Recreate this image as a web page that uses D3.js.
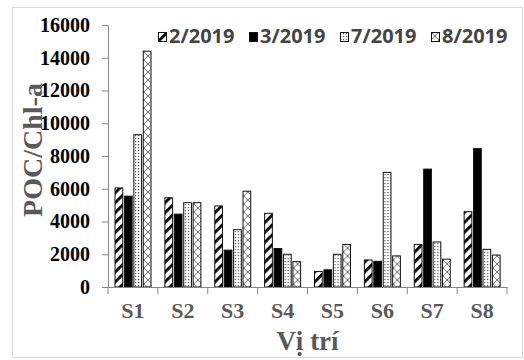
<!DOCTYPE html>
<html>
<head>
<meta charset="utf-8">
<script src="https://cdn.jsdelivr.net/npm/d3@7"></script>
<style>
  body { margin: 0; background: #fff; }
  svg { display: block; }
</style>
</head>
<body>
<div id="graph"></div>
<script>
var w = 524, h = 360

var sites = ['S1', 'S2', 'S3', 'S4', 'S5', 'S6', 'S7', 'S8']
var series = ['2/2019', '3/2019', '7/2019', '8/2019']
var feb = [6050, 5450, 4950, 4500, 950, 1650, 2600, 4600]
var mar = [5550, 4450, 2250, 2350, 1050, 1570, 7200, 8450]
var jul = [9300, 5150, 3500, 2000, 2000, 7000, 2750, 2300]
var aug = [14400, 5150, 5850, 1550, 2600, 1900, 1700, 1950]
var yTicks = [0, 2000, 4000, 6000, 8000, 10000, 12000, 14000, 16000]

var values = [feb, mar, jul, aug]
var data = sites.map(function(s, i) {
  return { site: s, vals: series.map(function(k, j) { return { key: k, idx: j, val: values[j][i] } }) }
})

var svg = d3.select('#graph')
  .append('svg')
  .attr('width', w)
  .attr('height', h)

// patterns
var defs = svg.append('defs')

var p1 = defs.append('pattern').attr('id', 'p0')
  .attr('patternUnits', 'userSpaceOnUse')
  .attr('width', 7).attr('height', 7)
  .attr('patternTransform', 'rotate(45)')
p1.append('rect').attr('width', 7).attr('height', 7).attr('fill', '#fff')
p1.append('rect').attr('width', 2.8).attr('height', 7).attr('fill', '#000')

var p3 = defs.append('pattern').attr('id', 'p2')
  .attr('patternUnits', 'userSpaceOnUse')
  .attr('width', 3).attr('height', 3)
p3.append('rect').attr('width', 3).attr('height', 3).attr('fill', '#fff')
p3.append('rect').attr('width', 1.2).attr('height', 1.2).attr('fill', '#555')

var p4 = defs.append('pattern').attr('id', 'p3')
  .attr('patternUnits', 'userSpaceOnUse')
  .attr('width', 8).attr('height', 8)
p4.append('rect').attr('width', 8).attr('height', 8).attr('fill', '#fff')
p4.append('path').attr('d', 'M0,8 L8,0 M0,0 L8,8')
  .attr('stroke', '#333').attr('stroke-width', 0.7).attr('fill', 'none')

var fills = ['url(#p0)', '#000', 'url(#p2)', 'url(#p3)']

// outer frame
svg.append('rect')
  .attr('x', 12.5).attr('y', 7.5)
  .attr('width', 510).attr('height', 350)
  .attr('fill', 'none')
  .attr('stroke', '#d9d9d9')

var x0 = d3.scaleBand().domain(sites).range([108, 507])
var x1 = d3.scaleBand().domain(series).range([7, 43]).paddingInner(0.18)
var y = d3.scaleLinear().domain([0, 16000]).range([287, 25])

// bars
var groups = svg.append('g').selectAll('.grp')
  .data(data)
  .enter()
  .append('g')
  .attr('class', 'grp')
  .attr('transform', function(d) { return 'translate(' + x0(d.site) + ',0)' })

groups.selectAll('rect')
  .data(function(d) { return d.vals })
  .enter()
  .append('rect')
  .attr('x', function(d) { return x1(d.key) })
  .attr('y', function(d) { return y(d.val) })
  .attr('width', x1.bandwidth())
  .attr('height', function(d) { return y(0) - y(d.val) })
  .attr('fill', function(d) { return fills[d.idx] })
  .attr('stroke', '#111')
  .attr('stroke-width', 1)

// y axis
var yAxis = svg.append('g')
  .attr('transform', 'translate(108,0)')
  .call(d3.axisLeft(y).tickValues(yTicks).tickFormat(d3.format('d'))
    .tickSize(6).tickPadding(12).tickSizeOuter(0))
yAxis.select('.domain').attr('stroke', '#868686')
yAxis.selectAll('line').attr('stroke', '#868686')
yAxis.selectAll('text')
  .attr('font-family', 'Liberation Serif, Times New Roman, serif')
  .attr('font-weight', 'bold')
  .attr('font-size', 20)
  .attr('fill', '#000')

// x axis
var xAxis = svg.append('g')
  .attr('transform', 'translate(0,287)')
  .call(d3.axisBottom(x0).tickSize(0).tickPadding(15).tickSizeOuter(0))
xAxis.select('.domain').attr('stroke', '#868686')
xAxis.selectAll('text')
  .attr('font-family', 'Liberation Serif, Times New Roman, serif')
  .attr('font-weight', 'bold')
  .attr('font-size', 22)
  .attr('fill', '#595959')

var bounds = sites.map(function(s) { return x0(s) }).concat([x0.range()[1]])
xAxis.selectAll('.bound')
  .data(bounds)
  .enter()
  .append('line')
  .attr('class', 'bound')
  .attr('x1', function(d) { return d }).attr('x2', function(d) { return d })
  .attr('y1', 0).attr('y2', 7)
  .attr('stroke', '#868686')

// axis titles
svg.append('text')
  .attr('transform', 'translate(42,150) rotate(-90)')
  .attr('text-anchor', 'middle')
  .attr('font-family', 'Liberation Serif, Times New Roman, serif')
  .attr('font-weight', 'bold')
  .attr('font-size', 28)
  .attr('fill', '#595959')
  .text('POC/Chl-a')

svg.append('text')
  .attr('x', 307.5).attr('y', 350)
  .attr('text-anchor', 'middle')
  .attr('font-family', 'Liberation Serif, Times New Roman, serif')
  .attr('font-weight', 'bold')
  .attr('font-size', 27)
  .attr('fill', '#595959')
  .text('Vị trí')

// legend
var legend = svg.append('g').selectAll('.leg')
  .data(series)
  .enter()
  .append('g')
  .attr('class', 'leg')
  .attr('transform', function(d, i) { return 'translate(' + (158 + i * 91) + ',0)' })

legend.append('rect')
  .attr('x', 0.5).attr('y', 32.5)
  .attr('width', 8).attr('height', 9)
  .attr('fill', function(d, i) { return fills[i] })
  .attr('stroke', '#111')

legend.append('text')
  .attr('x', 11).attr('y', 43)
  .attr('font-family', 'Open Sans, sans-serif')
  .attr('font-weight', 'bold')
  .attr('font-size', 20)
  .attr('fill', '#444')
  .text(function(d) { return d })
</script>
</body>
</html>
